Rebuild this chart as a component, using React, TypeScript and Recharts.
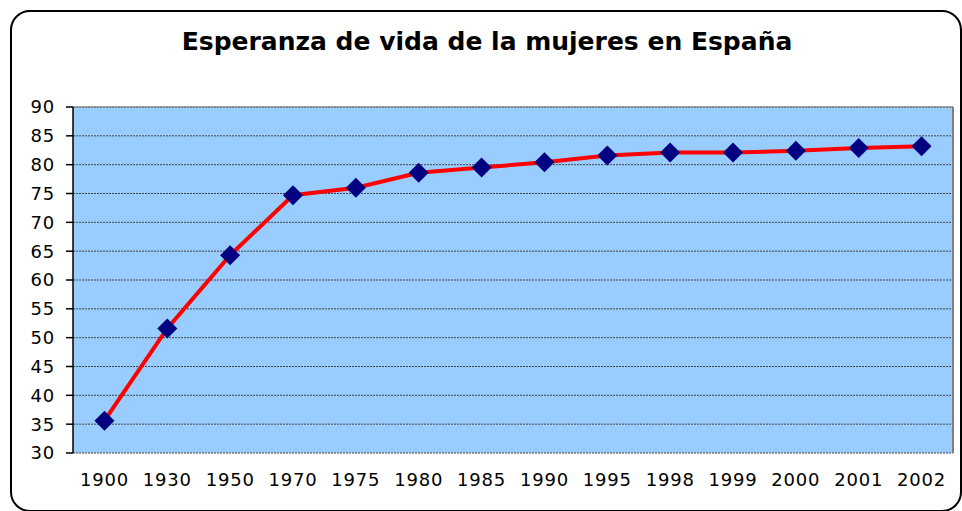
import React from 'react';
import { LineChart, Line, XAxis, YAxis, CartesianGrid, ReferenceLine } from 'recharts';

// años del eje X
const years = ['1900', '1930', '1950', '1970', '1975', '1980', '1985', '1990', '1995', '1998', '1999', '2000', '2001', '2002'];
// esperanza de vida (mujeres)
const lifeExpectancy = [35.6, 51.6, 64.3, 74.7, 76.0, 78.6, 79.5, 80.4, 81.6, 82.1, 82.1, 82.4, 82.9, 83.2];
const yTicks = [30, 35, 40, 45, 50, 55, 60, 65, 70, 75, 80, 85, 90];

const data = years.map((y, i) => ({ pos: i + 0.5, year: y, value: lifeExpectancy[i] }));
const boundaryTicks = years.map((_, i) => i).concat(years.length);
const centerTicks = years.map((_, i) => i + 0.5);

const font = 'Verdana, "DejaVu Sans", sans-serif';

const Diamond = (props: any) => {
  const { cx, cy } = props;
  if (cx == null || cy == null) return null;
  const r = 10;
  return (
    <polygon
      points={`${cx},${cy - r} ${cx + r},${cy} ${cx},${cy + r} ${cx - r},${cy}`}
      fill="#000080"
    />
  );
};

export default function App() {
  return (
    <div style={{ position: 'absolute', left: 0, top: 0, width: 962, height: 511, background: '#fff' }}>
      <div
        style={{
          position: 'absolute',
          left: 10,
          top: 10,
          width: 948,
          height: 498,
          border: '2px solid #000',
          borderRadius: 20,
        }}
      />
      <div
        style={{
          position: 'absolute',
          left: 0,
          top: 27,
          width: 974,
          textAlign: 'center',
          fontFamily: font,
          fontWeight: 'bold',
          fontSize: 25,
          color: '#000',
        }}
      >
        Esperanza de vida de la mujeres en España
      </div>
      <div style={{ position: 'absolute', left: 0, top: 0 }}>
        <LineChart width={962} height={511} data={data} margin={{ top: 107, right: 9, bottom: 28, left: 0 }}>
          <CartesianGrid vertical={false} fill="#99CCFF" stroke="#444" strokeDasharray="2 1" xAxisId="ticks" />
          <XAxis
            xAxisId="ticks"
            type="number"
            dataKey="pos"
            domain={[0, years.length]}
            ticks={boundaryTicks}
            tick={false}
            tickSize={7}
            height={0}
            stroke="#000"
            axisLine={{ stroke: '#000', strokeWidth: 1.5 }}
            tickLine={{ stroke: '#000', strokeWidth: 1.5 }}
          />
          <XAxis
            xAxisId="labels"
            type="number"
            dataKey="pos"
            domain={[0, years.length]}
            ticks={centerTicks}
            tickFormatter={(v: number) => years[Math.floor(v)]}
            axisLine={false}
            tickLine={false}
            tickSize={0}
            tickMargin={20}
            height={30}
            interval={0}
            tick={{ fill: '#000', fontSize: 18, fontFamily: font, letterSpacing: 0.8 }}
          />
          <YAxis
            type="number"
            domain={[30, 90]}
            ticks={yTicks}
            interval={0}
            width={73}
            tickSize={7}
            tickMargin={11}
            axisLine={{ stroke: '#000', strokeWidth: 1.5 }}
            tickLine={{ stroke: '#000', strokeWidth: 1.5 }}
            tick={{ fill: '#000', fontSize: 18, fontFamily: font, letterSpacing: 0.8 }}
          />
          <ReferenceLine xAxisId="ticks" x={years.length} stroke="#808080" strokeWidth={2} />
          <ReferenceLine xAxisId="ticks" y={90} stroke="#808080" strokeWidth={1} />
          <Line
            xAxisId="ticks"
            type="linear"
            dataKey="value"
            stroke="#FF0000"
            strokeWidth={4}
            dot={<Diamond />}
            activeDot={false}
            isAnimationActive={false}
          />
        </LineChart>
      </div>
    </div>
  );
}
